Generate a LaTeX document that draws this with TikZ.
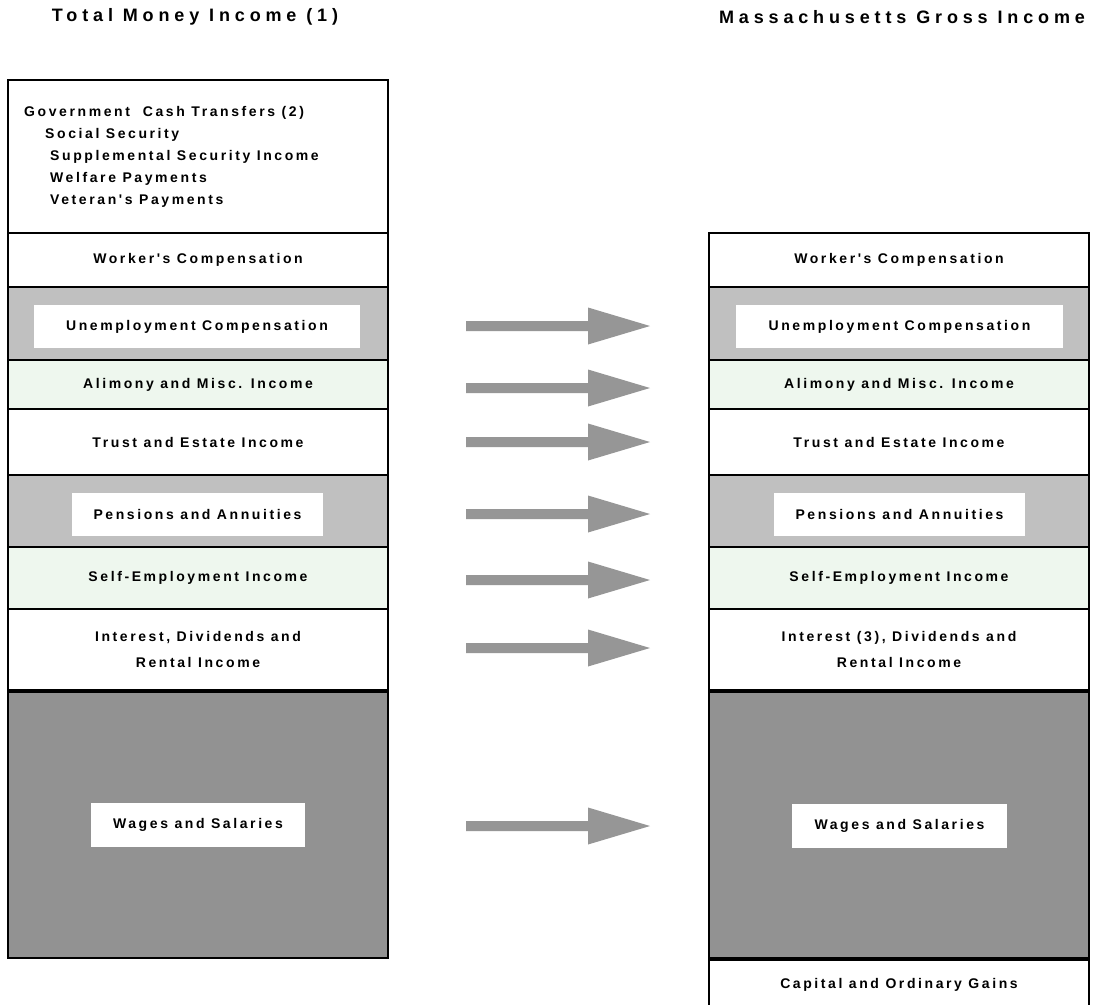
\documentclass[tikz,border=0pt]{standalone}
\usepackage{fontspec}
\setmainfont{Liberation Sans}
\newfontfamily\lblfont[LetterSpace=18.5]{Liberation Sans}
\newfontfamily\ttlfont[LetterSpace=27]{Liberation Sans}
\definecolor{lgray}{HTML}{C0C0C0}
\definecolor{dgray}{HTML}{929292}
\definecolor{agray}{HTML}{969696}
\definecolor{lgreen}{HTML}{EEF7EE}
\tikzset{
  box/.style={draw=black, line width=2pt, minimum width=380pt, inner sep=0pt, align=center,
     font=\lblfont\bfseries\fontsize{14}{26}\selectfont},
  inbox/.style={fill=white, inner sep=0pt, align=center, font=\lblfont\bfseries\fontsize{14}{15}\selectfont},
  ttl/.style={font=\ttlfont\bfseries\fontsize{18}{20}\selectfont, inner sep=0pt},
  govtxt/.style={anchor=west, inner sep=0pt, font=\lblfont\bfseries\fontsize{14}{15}\selectfont},
  thick line/.style={line width=4pt},
  fatarrow/.style={fill=agray}
}
\begin{document}
\begin{tikzpicture}[x=1pt,y=-1pt]
\useasboundingbox[fill=white] (0,0) rectangle (1094,1004);
\node[ttl] (t1) at (195,17) {Total Money Income (1)};
\node[ttl] (t2) at (902,17) {Massachusetts Gross Income};
% left column
\node[box, minimum height=153pt] (lg) at (198,156.5) {};
\node[govtxt] (g1) at (24,113) {Government\ \ Cash Transfers (2)};
\node[govtxt] (g2) at (45,135) {Social Security};
\node[govtxt] (g3) at (50,157) {Supplemental Security Income};
\node[govtxt] (g4) at (50,179) {Welfare Payments};
\node[govtxt] (g5) at (50,201) {Veteran's Payments};
\node[box, minimum height=54pt] (lw) at (198,260) {Worker's Compensation};
\node[box, minimum height=73pt, fill=lgray] (lu) at (198,323.5) {};
\node[inbox, minimum width=326pt, minimum height=43pt] (lui) at (197,326.5) {Unemployment Compensation};
\node[box, minimum height=49pt, fill=lgreen] (la) at (198,384.5) {Alimony and Misc. Income};
\node[box, minimum height=66pt] (lt) at (198,442) {Trust and Estate Income};
\node[box, minimum height=72pt, fill=lgray] (lp) at (198,511) {};
\node[inbox, minimum width=251pt, minimum height=43pt] (lpi) at (197.5,514.5) {Pensions and Annuities};
\node[box, minimum height=62pt, fill=lgreen] (ls) at (198,578) {Self-Employment Income};
\node[box, minimum height=81pt] (li) at (198,649.5) {Interest, Dividends and\\Rental Income};
\node[box, minimum height=268pt, fill=dgray] (lwg) at (198,824) {};
\node[inbox, minimum width=214pt, minimum height=44pt] (lwgi) at (198,825) {Wages and Salaries};
\draw[thick line] (li.south west) -- (li.south east);
% right column
\node[box, minimum height=54pt] (rw) at (899,260) {Worker's Compensation};
\node[box, minimum height=73pt, fill=lgray] (ru) at (899,323.5) {};
\node[inbox, minimum width=327pt, minimum height=43pt] (rui) at (899.5,326.5) {Unemployment Compensation};
\node[box, minimum height=49pt, fill=lgreen] (ra) at (899,384.5) {Alimony and Misc. Income};
\node[box, minimum height=66pt] (rt) at (899,442) {Trust and Estate Income};
\node[box, minimum height=72pt, fill=lgray] (rp) at (899,511) {};
\node[inbox, minimum width=251pt, minimum height=43pt] (rpi) at (899.5,514.5) {Pensions and Annuities};
\node[box, minimum height=62pt, fill=lgreen] (rs) at (899,578) {Self-Employment Income};
\node[box, minimum height=81pt] (ri) at (899,649.5) {Interest (3), Dividends and\\Rental Income};
\node[box, minimum height=268pt, fill=dgray] (rwg) at (899,824) {};
\node[inbox, minimum width=215pt, minimum height=44pt] (rwgi) at (899.5,825.5) {Wages and Salaries};
\node[box, minimum height=52pt, anchor=north] (rc) at (899,958) {Capital and Ordinary Gains};
\draw[thick line] (ri.south west) -- (ri.south east);
\draw[thick line] (rwg.south west) -- (rwg.south east);
% arrows
\foreach \yy in {326,388,442,514,580,648,826}{
  \fill[fatarrow] (466,\yy-5) -- (588,\yy-5) -- (588,\yy-18.5) -- (650,\yy) -- (588,\yy+18.5) -- (588,\yy+5) -- (466,\yy+5) -- cycle;
}
\end{tikzpicture}
\end{document}
